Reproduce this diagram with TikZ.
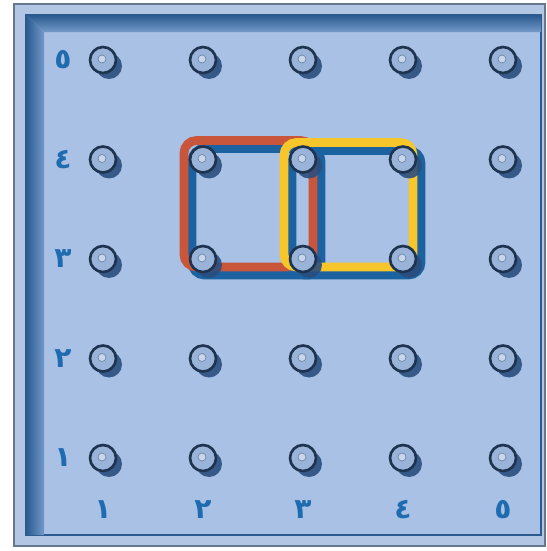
\documentclass[tikz,border=0pt]{standalone}
\usepackage{fontspec}
\newfontfamily\arabicfont[Script=Arabic]{DejaVu Sans}
\TeXXeTstate=1
\usetikzlibrary{calc,shadows,backgrounds}
\definecolor{panel}{HTML}{A9C1E4}
\definecolor{framefill}{HTML}{B3C7E4}
\definecolor{frameline}{HTML}{66788F}
\definecolor{bevdark}{HTML}{2A5A8E}
\definecolor{bevlight}{HTML}{7399C9}
\definecolor{numblue}{HTML}{1F6BB0}
\definecolor{bandred}{HTML}{C9553A}
\definecolor{bandyellow}{HTML}{F6C62A}
\definecolor{bandshadow}{HTML}{1C61A0}
\definecolor{pegline}{HTML}{1E3350}
\definecolor{pegfill}{HTML}{9AB3D9}
\definecolor{pegshadow}{HTML}{2B4E7E}
\definecolor{dotfill}{HTML}{C8D7EC}
\definecolor{dotline}{HTML}{6F87A6}
\tikzset{
  peg/.style={circle,draw=pegline,line width=1.5pt,fill=pegfill,minimum size=0.52cm,inner sep=0pt,
    drop shadow={shadow xshift=0.12cm,shadow yshift=-0.12cm,fill=pegshadow,opacity=0.9},
    path picture={\filldraw[draw=dotline,fill=dotfill,line width=0.4pt]
      ([xshift=-0.02cm,yshift=0.02cm]path picture bounding box.center) circle (0.08cm);}},
  num/.style={text=numblue,font=\arabicfont\bfseries\fontsize{16}{16}\selectfont,inner sep=0pt},
  band/.style={line width=5pt,rounded corners=0.25cm},
}
\begin{document}
\begin{tikzpicture}[x=0.02cm,y=-0.02cm]
  \useasboundingbox (0,0) rectangle (547,551);
  % pegs
  \foreach \i in {1,...,5}
    \foreach \j in {1,...,5}
      \node[peg] (p\i\j) at ({103+100*(\i-1)},{458-99.5*(\j-1)}) {};
  % numbers
  \foreach \j/\d in {1/١,2/٢,3/٣,4/٤,5/٥} {
    \node[num] (r\j) at (63,{458-99.5*(\j-1)}) {\beginR\d\endR};
    \node[num] (c\j) at ({103+100*(\j-1)},510) {\beginR\d\endR};
  }
  \begin{pgfonlayer}{background}
    % board
    \draw[draw=frameline,fill=framefill,line width=1pt] (14,4) rectangle (545,546);
    \draw[draw=bevdark,fill=panel,line width=1pt] (26,15) rectangle (541,535);
    \shade[top color=bevdark,bottom color=bevlight] (26,15) -- (541,15) -- (541,32) -- (44,32) -- cycle;
    \shade[left color=bevdark,right color=bevlight] (26,15) -- (44,32) -- (44,535) -- (26,535) -- cycle;
    % bands
    \draw[band,bandshadow] ($(p24)+(-11,-11)$) rectangle ($(p33)+(18,16)$);
    \draw[band,bandred] ($(p24)+(-19,-19)$) rectangle ($(p33)+(10,8)$);
    \draw[band,bandshadow] ($(p34)+(-11,-9)$) rectangle ($(p43)+(18,16)$);
    \draw[band,bandyellow] ($(p34)+(-19,-17)$) rectangle ($(p43)+(10,8)$);
  \end{pgfonlayer}
\end{tikzpicture}
\end{document}
